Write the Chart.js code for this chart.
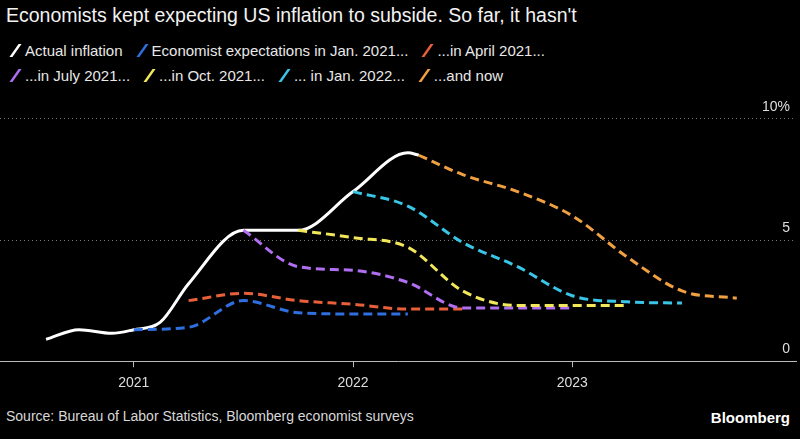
<!DOCTYPE html>
<html lang="en">
<head>
<meta charset="UTF-8">
<title>US inflation expectations</title>
<script src="https://cdn.jsdelivr.net/npm/chart.js"></script>
<style>
  body { margin: 0; background: #000; color: #eee; font-family: "Liberation Sans", Arial, sans-serif; width: 800px; height: 439px; overflow: hidden; position: relative; }
  #title { position: absolute; left: 6px; top: 4px; font-size: 19.5px; color: #f2f2f2; }
  #legend { position: absolute; left: 10px; top: 38px; font-size: 15px; color: #e8e8e8; line-height: 25px; }
  #legend span { margin-right: 14px; white-space: nowrap; }
  #legend b { display: inline-block; width: 3px; height: 13px; transform: skewX(-35deg); margin: 0 8px 0 4px; vertical-align: -1px; }
  #wrap { position: absolute; left: 0; top: 85px; width: 800px; height: 315px; }
  #source { position: absolute; left: 6px; top: 408px; font-size: 14px; color: #d8d8d8; }
  #brand { position: absolute; right: 10px; top: 409px; font-size: 15px; font-weight: bold; color: #fff; }
</style>
</head>
<body>
<div id="title">Economists kept expecting US inflation to subside. So far, it hasn't</div>
<div id="legend"></div>
<div id="wrap"><canvas id="chart"></canvas></div>
<div id="source">Source: Bureau of Labor Statistics, Bloomberg economist surveys</div>
<div id="brand">Bloomberg</div>
<script>
// x = decimal year, y = percent
var seriesNames = ['Actual inflation', 'Economist expectations in Jan. 2021...', '...in April 2021...',
  '...in July 2021...', '...in Oct. 2021...', '... in Jan. 2022...', '...and now'];
var colors = ['#ffffff', '#2f6fe0', '#e8603a', '#b06ef0', '#f2e65a', '#39c6e6', '#f0a040'];

var actualX = [2020.6, 2020.75, 2020.9, 2021.0, 2021.12, 2021.25, 2021.5, 2021.75, 2022.0, 2022.25, 2022.3];
var actualY = [0.9, 1.3, 1.15, 1.3, 1.6, 3.2, 5.4, 5.4, 7.0, 8.6, 8.5];
var jan21X = [2021.0, 2021.25, 2021.5, 2021.75, 2022.0, 2022.25];
var jan21Y = [1.3, 1.4, 2.5, 2.0, 1.95, 1.95];
var apr21X = [2021.25, 2021.5, 2021.75, 2022.0, 2022.25, 2022.5];
var apr21Y = [2.5, 2.8, 2.5, 2.35, 2.15, 2.15];
var jul21X = [2021.5, 2021.75, 2022.0, 2022.25, 2022.5, 2022.75, 2023.0];
var jul21Y = [5.4, 3.9, 3.75, 3.25, 2.2, 2.2, 2.2];
var oct21X = [2021.75, 2022.0, 2022.25, 2022.5, 2022.75, 2023.0, 2023.25];
var oct21Y = [5.4, 5.1, 4.7, 2.9, 2.3, 2.3, 2.3];
var jan22X = [2022.0, 2022.25, 2022.5, 2022.75, 2023.0, 2023.25, 2023.5];
var jan22Y = [7.0, 6.4, 4.9, 3.9, 2.7, 2.45, 2.4];
var nowX = [2022.3, 2022.5, 2022.75, 2023.0, 2023.25, 2023.5, 2023.75];
var nowY = [8.5, 7.7, 7.0, 6.0, 4.3, 2.9, 2.6];
var xTicks = [2021, 2022, 2023];
var yTicks = [0, 5, 10];

var xs = [actualX, jan21X, apr21X, jul21X, oct21X, jan22X, nowX];
var ys = [actualY, jan21Y, apr21Y, jul21Y, oct21Y, jan22Y, nowY];

var leg = document.getElementById('legend');
seriesNames.forEach(function (n, i) {
  if (i === 3) leg.appendChild(document.createElement('br'));
  var s = document.createElement('span');
  s.innerHTML = '<b style="background:' + colors[i] + '"></b>' + n;
  leg.appendChild(s);
});

// draw order: expectations first, actual on top
var datasets = [];
for (var i = 6; i >= 0; i--) {
  datasets.push({
    label: seriesNames[i],
    data: xs[i].map(function (x, j) { return { x: x, y: ys[i][j] }; }),
    borderColor: colors[i],
    borderWidth: 3,
    borderDash: i === 0 ? [] : [9, 5],
    pointRadius: 0,
    tension: 0.4,
    cubicInterpolationMode: 'monotone',
    fill: false
  });
}

new Chart(document.getElementById('chart'), {
  type: 'line',
  data: { datasets: datasets },
  options: {
    responsive: true,
    maintainAspectRatio: false,
    animation: false,
    layout: { padding: { left: 0, right: 4, top: 0, bottom: 0 } },
    plugins: { legend: { display: false }, tooltip: { enabled: false } },
    scales: {
      x: {
        type: 'linear', min: 2020.39, max: 2024.02,
        afterBuildTicks: function (a) { a.ticks = xTicks.map(function (v) { return { value: v }; }); },
        ticks: { color: '#ddd', font: { size: 14 }, callback: function (v) { return v; }, padding: 8 },
        grid: { display: true, drawOnChartArea: false, color: '#bbb', tickLength: 6 },
        border: { color: '#bbb', width: 1 }
      },
      y: {
        position: 'right', min: 0, max: 11.3,
        afterBuildTicks: function (a) { a.ticks = yTicks.map(function (v) { return { value: v }; }); },
        ticks: { color: '#ddd', font: { size: 14 }, mirror: true, labelOffset: -12, padding: -6,
          callback: function (v) { return v === 10 ? '10%' : v; } },
        grid: { color: '#777', borderDash: [1, 3], drawTicks: false },
        border: { display: false, dash: [1, 3] }
      }
    }
  }
});
</script>
</body>
</html>
